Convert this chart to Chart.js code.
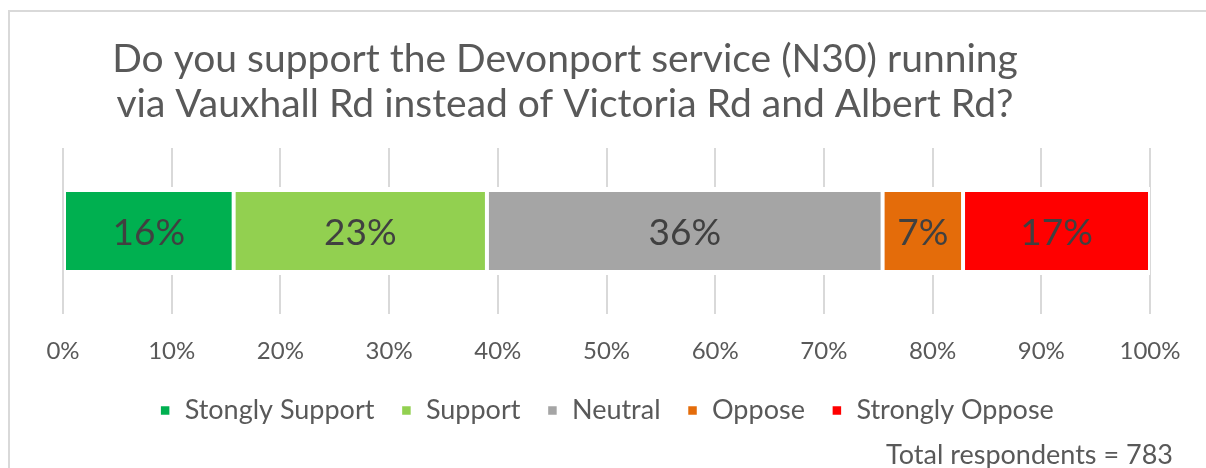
<!DOCTYPE html>
<html>
<head>
<meta charset="utf-8">
<script src="https://cdn.jsdelivr.net/npm/chart.js@4"></script>
<style>
  html, body { margin: 0; padding: 0; background: #fff; overflow: hidden; }
  #wrap { position: relative; width: 1206px; height: 468px; }
  #frame { position: absolute; left: 8px; top: 10px; width: 1300px; height: 600px;
           border: 2px solid #d9d9d9; box-sizing: border-box; }
  canvas { position: absolute; left: 0; top: 0; }
</style>
</head>
<body>
<div id="wrap">
  <div id="frame"></div>
  <canvas id="chart" width="1206" height="468"></canvas>
</div>
<script>
// Survey answers (share of 783 respondents, %)
const categories = ["Stongly Support", "Support", "Neutral", "Oppose", "Strongly Oppose"];
const shares = [15.7, 23.3, 36.4, 7.4, 17.2];
const colors = ["#00B050", "#92D050", "#A5A5A5", "#E46C0A", "#FF0000"];
const tickValues = [0, 10, 20, 30, 40, 50, 60, 70, 80, 90, 100];
const titleLines = ["Do you support the Devonport service (N30) running",
                    "via Vauxhall Rd instead of Victoria Rd and Albert Rd?"];
const footnote = "Total respondents = 783";

const FONT = "Lato, 'Open Sans', sans-serif";
const TEXT = "#595959";

// header title + footnote, drawn on the canvas
const textPlugin = {
    id: "textPlugin",
    afterDraw(chart) {
        const ctx = chart.ctx;
        ctx.save();
        ctx.fillStyle = TEXT;
        ctx.font = "39px " + FONT;
        ctx.textAlign = "center";
        ctx.textBaseline = "alphabetic";
        ctx.fillText(titleLines[0], 565, 72);
        ctx.fillText(titleLines[1], 565, 117);
        ctx.font = "27px " + FONT;
        ctx.textAlign = "right";
        ctx.fillText(footnote, 1173, 464);
        ctx.restore();
    }
};

// percentage labels in the middle of each segment
const barLabels = {
    id: "barLabels",
    afterDatasetsDraw(chart) {
        const ctx = chart.ctx;
        ctx.save();
        ctx.fillStyle = "#404040";
        ctx.font = "37px " + FONT;
        ctx.textAlign = "center";
        ctx.textBaseline = "middle";
        chart.data.datasets.forEach((ds, i) => {
            const bar = chart.getDatasetMeta(i).data[0];
            const v = ds.data[0];
            const cx = (bar.x + bar.base) / 2;
            ctx.fillText(Math.round(v) + "%", cx, bar.y + 2);
        });
        ctx.restore();
    }
};

const ctx = document.getElementById("chart").getContext("2d");
new Chart(ctx, {
    type: "bar",
    data: {
        labels: [""],
        datasets: categories.map((name, i) => ({
            label: name,
            data: [shares[i]],
            backgroundColor: colors[i],
            borderColor: "#ffffff",
            borderWidth: { left: 2, right: 2, top: 5, bottom: 5 },
            borderSkipped: false,
            barPercentage: 1,
            categoryPercentage: 0.53
        }))
    },
    options: {
        responsive: false,
        animation: false,
        indexAxis: "y",
        layout: { padding: { top: 148, left: 63, right: 56, bottom: 34 } },
        scales: {
            x: {
                stacked: true,
                min: 0,
                max: 100,
                afterBuildTicks(scale) {
                    scale.ticks = tickValues.map(v => ({ value: v }));
                },
                afterFit(scale) {
                    scale.height = 57;
                },
                grid: { color: "#d9d9d9", lineWidth: 2, drawTicks: false },
                border: { display: false },
                ticks: {
                    padding: 23,
                    color: TEXT,
                    font: { family: FONT, size: 24 },
                    callback: v => v + "%"
                }
            },
            y: {
                stacked: true,
                display: false
            }
        },
        plugins: {
            legend: {
                position: "bottom",
                labels: {
                    boxWidth: 12,
                    boxHeight: 12,
                    padding: 26,
                    color: TEXT,
                    font: { family: FONT, size: 27 }
                }
            },
            tooltip: { enabled: false }
        }
    },
    plugins: [textPlugin, barLabels]
});
</script>
</body>
</html>
